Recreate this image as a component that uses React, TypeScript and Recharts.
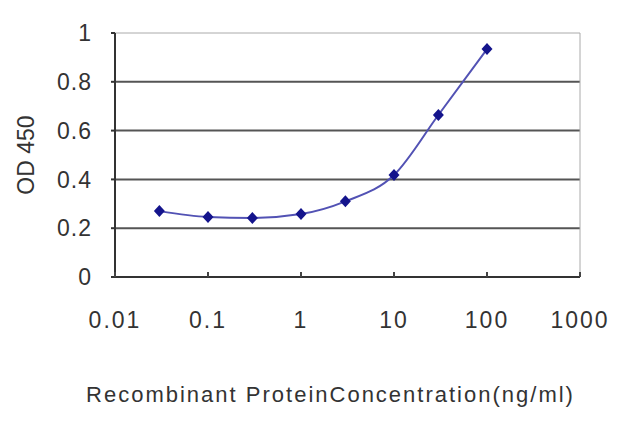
import { LineChart, Line, XAxis, YAxis, ReferenceLine } from 'recharts'

const concentrations = [0.03, 0.1, 0.3, 1, 3, 10, 30, 100]
const odValues = [0.27, 0.246, 0.242, 0.258, 0.31, 0.418, 0.664, 0.934]
const xTicks = [0.01, 0.1, 1, 10, 100, 1000]
const yTicks = [0, 0.2, 0.4, 0.6, 0.8, 1]
const gridLines = [0.2, 0.4, 0.6, 0.8]

const data = concentrations.map((c, i) => ({ conc: c, od: odValues[i] }))

const font = '"Liberation Sans", Arial, sans-serif'

const XTick = ({ x, y, payload }: any) => (
  <g>
    <line x1={x} x2={x} y1={y} y2={y - 5} stroke="#444" strokeWidth={2} />
    <text
      x={x}
      y={y + 43}
      dy="0.355em"
      textAnchor="middle"
      fill="#333"
      fontSize={23}
      fontFamily={font}
      letterSpacing={2}
    >
      {String(payload.value)}
    </text>
  </g>
)

const Diamond = ({ cx, cy, index }: any) => (
  <polygon
    key={index}
    points={`${cx},${cy - 6} ${cx + 5.5},${cy} ${cx},${cy + 6} ${cx - 5.5},${cy}`}
    fill="#14148c"
  />
)

export default function App() {
  return (
    <div style={{ position: 'absolute', left: 0, top: 0, background: '#fff' }}>
      <LineChart width={640} height={427} data={data} margin={{ top: 33, right: 60, left: 0, bottom: 0 }}>
        {gridLines.map((v) => (
          <ReferenceLine key={v} y={v} stroke="#555" strokeWidth={2} />
        ))}
        <ReferenceLine y={1} stroke="#aaa" strokeWidth={1} />
        <ReferenceLine x={1000} stroke="#aaa" strokeWidth={1} />
        <XAxis
          dataKey="conc"
          type="number"
          scale="log"
          domain={[0.01, 1000]}
          ticks={xTicks}
          allowDataOverflow
          height={150}
          tickSize={0}
          tickMargin={0}
          tick={<XTick />}
          axisLine={{ stroke: '#333', strokeWidth: 2 }}
          label={{
            value: 'Recombinant ProteinConcentration(ng/ml)',
            position: 'center',
            dx: -17,
            dy: 42,
            fill: '#333',
            fontSize: 22,
            fontFamily: font,
            letterSpacing: 2,
          }}
        />
        <YAxis
          type="number"
          domain={[0, 1]}
          ticks={yTicks}
          width={115}
          tickSize={4}
          tickMargin={19}
          tickLine={{ stroke: '#333', strokeWidth: 2 }}
          axisLine={{ stroke: '#333', strokeWidth: 2 }}
          tick={{ fill: '#333', fontSize: 23, fontFamily: font, letterSpacing: 1 }}
          label={{
            value: 'OD 450',
            angle: -90,
            position: 'center',
            dx: -32,
            fill: '#333',
            fontSize: 23,
            fontFamily: font,
          }}
        />
        <Line
          type="monotone"
          dataKey="od"
          stroke="#5252b4"
          strokeWidth={2}
          dot={Diamond}
          activeDot={false}
          isAnimationActive={false}
        />
      </LineChart>
    </div>
  )
}
